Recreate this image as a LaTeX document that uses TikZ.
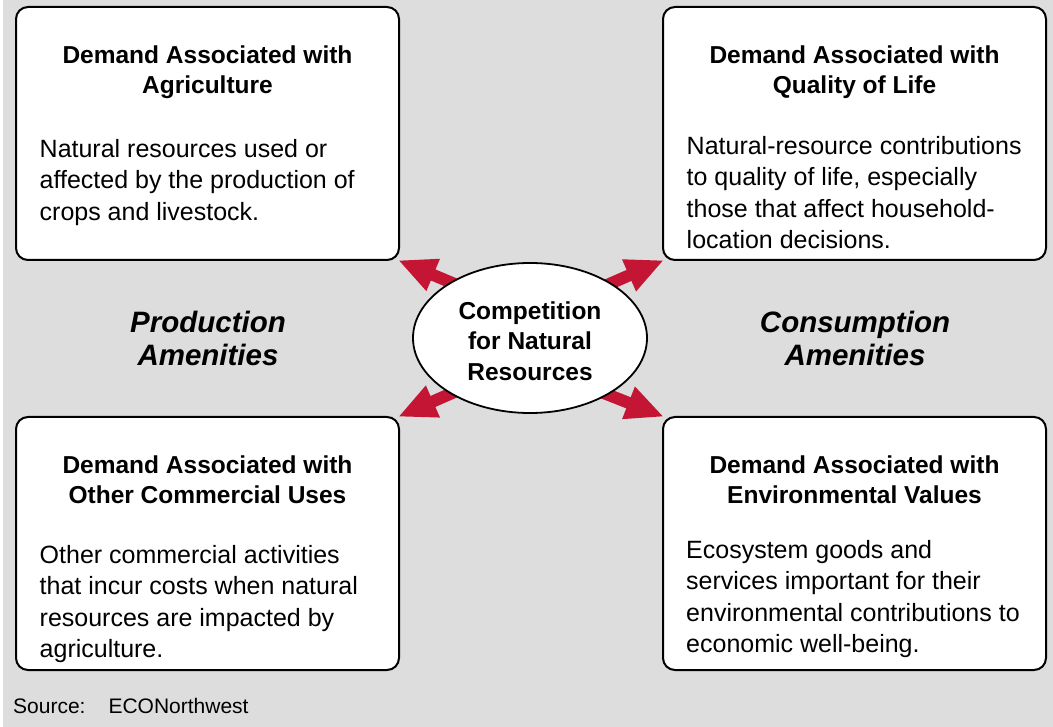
\documentclass[tikz,border=0pt]{standalone}
\usepackage{fontspec}
\setmainfont{Liberation Sans}
\usetikzlibrary{arrows.meta,shapes.geometric}
\definecolor{bggray}{RGB}{221,221,221}
\definecolor{arrowred}{RGB}{196,22,52}
\pgfdeclarelayer{bg}
\pgfdeclarelayer{arr}
\pgfsetlayers{bg,arr,main}
\tikzset{
  box/.style={draw=black, line width=2pt, fill=white, rounded corners=12pt,
    minimum width=383pt, minimum height=253pt, inner sep=0pt},
  hub/.style={ellipse, draw=black, line width=1.8pt, fill=white,
    minimum width=234pt, minimum height=150pt, inner sep=0pt, align=center,
    font=\fontsize{24.5}{30.5}\selectfont\bfseries},
  titletext/.style={anchor=north, inner sep=0pt, align=center,
    font=\fontsize{24.5}{30}\selectfont\bfseries},
  bodytext/.style={anchor=north west, inner sep=0pt, align=left,
    font=\fontsize{25}{31.5}\selectfont},
  amen/.style={anchor=north, inner sep=0pt, align=center,
    font=\fontsize{29.5}{33}\selectfont\bfseries\itshape},
  fat/.style={line width=12pt, draw=arrowred, shorten <=-6pt, shorten >=-2pt,
    -{Triangle[length=38pt,width=32pt]}},
}
\begin{document}
\begin{tikzpicture}[x=1pt,y=-1pt]
\useasboundingbox (0,0) rectangle (1053,727);
\begin{pgfonlayer}{bg}
  \fill[white] (0,0) rectangle (1053,727);
  \fill[bggray] (3,0) rectangle (1053,727);
\end{pgfonlayer}

\node[box] (agri) at (207.5,133.5) {};
\node[box] (qol)  at (854.5,133.5) {};
\node[box] (oth)  at (207.5,543.5) {};
\node[box] (env)  at (854.5,543.5) {};

\node[hub] (comp) at (530,338) {\rule{0pt}{24pt}Competition\\for Natural\\Resources};

\node[titletext] (agriT) at (207.5,42) {\strut Demand Associated with\\Agriculture};
\node[bodytext]  (agriB) at (39.5,135) {\strut Natural resources used or\\affected by the production of\\crops and livestock.};

\node[titletext] (qolT) at (854.5,42) {\strut Demand Associated with\\Quality of Life};
\node[bodytext]  (qolB) at (686.5,132) {\strut Natural-resource contributions\\to quality of life, especially\\those that affect household-\\location decisions.};

\node[titletext] (othT) at (207.5,452) {\strut Demand Associated with\\Other Commercial Uses};
\node[bodytext]  (othB) at (39.5,541) {\strut Other commercial activities\\that incur costs when natural\\resources are impacted by\\agriculture.};

\node[titletext] (envT) at (854.5,452) {\strut Demand Associated with\\Environmental Values};
\node[bodytext]  (envB) at (686,536) {\strut Ecosystem goods and\\services important for their\\environmental contributions to\\economic well-being.};

\node[amen] (prod) at (208,309) {\strut Production\\Amenities};
\node[amen] (cons) at (855,309) {\strut Consumption\\Amenities};

\node[anchor=base west, inner sep=0pt, font=\fontsize{21}{25}\selectfont] (src) at (13,713) {Source:\hspace{23pt}ECONorthwest};

\begin{pgfonlayer}{arr}
  \draw[fat] (comp.145.5) -- (agri.south east);
  \draw[fat] (comp.34.5)  -- (qol.south west);
  \draw[fat] (comp.215.5) -- (oth.north east);
  \draw[fat] (comp.324.5) -- (env.north west);
\end{pgfonlayer}
\end{tikzpicture}
\end{document}
